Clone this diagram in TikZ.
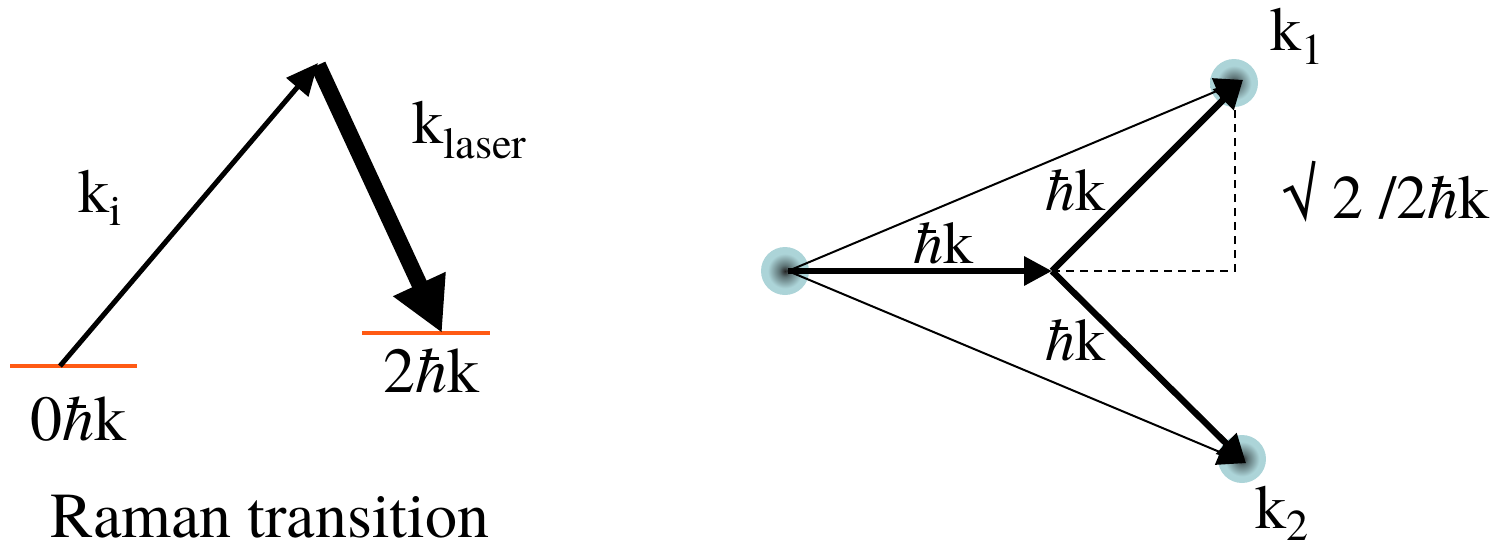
\documentclass[tikz,border=0pt]{standalone}
\usepackage[no-math]{fontspec}
\setmainfont{texgyretermes}[Extension=.otf,UprightFont=*-regular,ItalicFont=*-italic,BoldFont=*-bold]
\usetikzlibrary{arrows.meta,shapes.geometric}
\definecolor{lvl}{RGB}{255,90,20}
\definecolor{blobc}{RGB}{172,212,216}
\pgfdeclareradialshading{blobshade}{\pgfpoint{0bp}{0bp}}{color(0bp)=(black!85); color(6bp)=(black!45!blobc); color(18bp)=(blobc); color(50bp)=(blobc)}
\newcommand{\hb}{\makebox[0pt][l]{\kern0.07em\raisebox{0.5em}{\rule{0.3em}{0.045em}}}\textit{h}}
\newcommand{\hk}{\hb k}
\newcommand{\subtx}[2][7pt]{\raisebox{-#1}{\fontsize{22}{24}\selectfont #2}}
\begin{document}
\begin{tikzpicture}[x=0.5pt,y=-0.5pt,
  lab/.style={inner sep=0pt,anchor=base west,font=\rmfamily\fontsize{31}{36}\selectfont},
  big/.style={font=\rmfamily\fontsize{32}{38}\selectfont},
  level/.style={draw=lvl,line width=2pt},
  thinarrow/.style={line width=2.5pt,-{Triangle[length=16pt,width=14pt]}},
  fatarrow/.style={line width=8pt,-{Triangle[length=27pt,width=27pt]}},
  vec/.style={line width=3.2pt,-{Triangle[length=14pt,width=14pt]}},
  diag/.style={line width=1pt,-{Triangle[length=14pt,width=13.5pt]}},
  guide/.style={line width=0.8pt,dash pattern=on 4pt off 3pt},
  blob/.style={circle,inner sep=0pt,shading=blobshade}]
\useasboundingbox (0,0) rectangle (1510,548);
% ---------- left: Raman transition ----------
\coordinate (g0a) at (10,366);
\coordinate (g0b) at (137,366);
\coordinate (g0) at (60,366);
\coordinate (top) at (318,63);
\coordinate (topf) at (318,65);
\coordinate (g2a) at (362,333);
\coordinate (g2b) at (490,333);
\coordinate (g2) at (442,333);
\draw[level] (g0a) -- (g0b);
\draw[level] (g2a) -- (g2b);
\draw[thinarrow] (g0) -- (top);
\draw[fatarrow] (topf) -- (g2);
\node[lab] (ki) at (78,212) {k\subtx[6.5pt]{i}};
\node[lab] (kl) at (412,143) {k\subtx[7.5pt]{laser}};
\node[lab,big] (l0) at (30,440) {0\hk};
\node[lab,big] (l2) at (383,392) {2\hk};
\node[lab,big] (rt) at (50,537) {Raman transition};
% ---------- right: momentum diagram ----------
\node[blob,minimum width=23pt,minimum height=24pt] (b0) at (785,271) {};
\node[blob,minimum size=24pt] (b1) at (1234,83) {};
\node[blob,minimum size=24pt] (b2) at (1242,459) {};
\coordinate (O) at (788,271);
\coordinate (M) at (1052,271);
\coordinate (K1) at (1243,80);
\coordinate (K2) at (1246,463);
\coordinate (D) at (1235,271);
\coordinate (Dt) at (1235,108);
\draw[diag] (O) -- (K1);
\draw[diag] (O) -- (K2);
\draw[guide] (M) -- (D) -- (Dt);
\draw[vec] (O) -- (M);
\draw[vec] (M) -- (K1);
\draw[vec] (M) -- (K2);
\node[lab,font=\rmfamily\fontsize{30}{36}\selectfont] (h0) at (913,263) {\hk};
\node[lab,font=\rmfamily\fontsize{30}{36}\selectfont] (h1) at (1045,210) {\hk};
\node[lab,font=\rmfamily\fontsize{30}{36}\selectfont] (h2) at (1045,360) {\hk};
\node[lab] (sq) at (1283,218) {√ 2 /2\hk};
\node[lab] (k1) at (1270,50) {k\subtx{1}};
\node[lab] (k2) at (1255,528) {k\subtx[6pt]{2}};
\end{tikzpicture}
\end{document}
